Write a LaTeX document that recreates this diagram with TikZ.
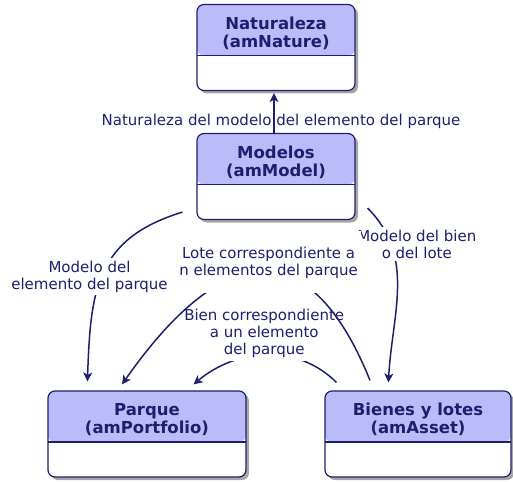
\documentclass[tikz,border=0pt]{standalone}
\usepackage{fontspec}
\setmainfont{DejaVu Sans}
\usetikzlibrary{arrows.meta,shadows}
\definecolor{navy}{RGB}{30,30,112}
\definecolor{hdr}{RGB}{187,187,250}
\newcommand{\tbltitle}[2]{\parbox[c][86pt][t]{150pt}{\centering\vspace*{12pt}#1\\#2}}

\begin{document}
\begin{tikzpicture}[x=1pt,y=-1pt,>={Stealth[length=9pt,width=9pt,inset=2.5pt]},thick,
  conn/.style={->,draw=navy,line width=1.5pt},
  tbl/.style={draw=navy,line width=1.2pt,rounded corners=7pt,fill=white,inner sep=0pt,
    font=\fontsize{16.5}{18}\selectfont\bfseries,text=navy,
    drop shadow={shadow xshift=3pt,shadow yshift=-3pt,opacity=.35,fill=black},
    path picture={\fill[hdr] (path picture bounding box.north west) rectangle ([yshift=-51pt]path picture bounding box.north east);
      \draw[-,navy,line width=1.2pt] ([yshift=-51pt]path picture bounding box.north west) -- ([yshift=-51pt]path picture bounding box.north east);}},
  lbl/.style={font=\fontsize{15}{17}\selectfont,text=navy,align=center,inner sep=3pt}]

  \useasboundingbox (0,0) rectangle (513,481);

  \node[tbl,minimum width=158pt] (nat) at (276,47.5) {\tbltitle{Naturaleza}{(amNature)}};
  \node[tbl,minimum width=158pt] (mod) at (276,176.5) {\tbltitle{Modelos}{(amModel)}};
  \node[tbl,minimum width=198pt] (par) at (147,434) {\tbltitle{Parque}{(amPortfolio)}};
  \node[tbl,minimum width=186pt] (bie) at (418,434) {\tbltitle{Bienes y lotes}{(amAsset)}};

  \draw[conn] ([xshift=-2pt]mod.north) -- node[lbl,pos=.3,xshift=7pt] {Naturaleza del modelo del elemento del parque} ([xshift=-2pt,yshift=-2pt]nat.south);
  \draw[conn] ([xshift=-14pt,yshift=8pt]mod.south west) to[out=197,in=88,looseness=1.2]
    node[lbl,fill=white,pos=.5,xshift=-14pt,yshift=-4pt] {Modelo del\\elemento del parque} ([xshift=40pt,yshift=9pt]par.north west);
  \draw[conn] ([xshift=12pt,yshift=12pt]mod.south east) to[out=-45,in=87]
    node[lbl,fill=white,pos=.25,xshift=25pt,yshift=2pt] {Modelo del bien\\o del lote} ([xshift=64pt,yshift=8pt]bie.north west);
  \draw[conn] ([xshift=12pt,yshift=8pt]bie.north west) to[out=135,in=40]
    node[lbl,fill=white,pos=.5,xshift=-2pt,yshift=21.5pt] {Bien correspondiente\\a un elemento\\del parque} ([xshift=-53pt,yshift=6pt]par.north east);
  \draw[conn] ([xshift=-48pt,yshift=10pt]bie.north) to[out=112,in=55,looseness=1.73]
    node[lbl,fill=white,pos=.5,xshift=10pt,yshift=10pt,minimum height=62pt] {Lote correspondiente a\\n elementos del parque} ([xshift=-25pt,yshift=6pt]par.north);
\end{tikzpicture}
\end{document}
